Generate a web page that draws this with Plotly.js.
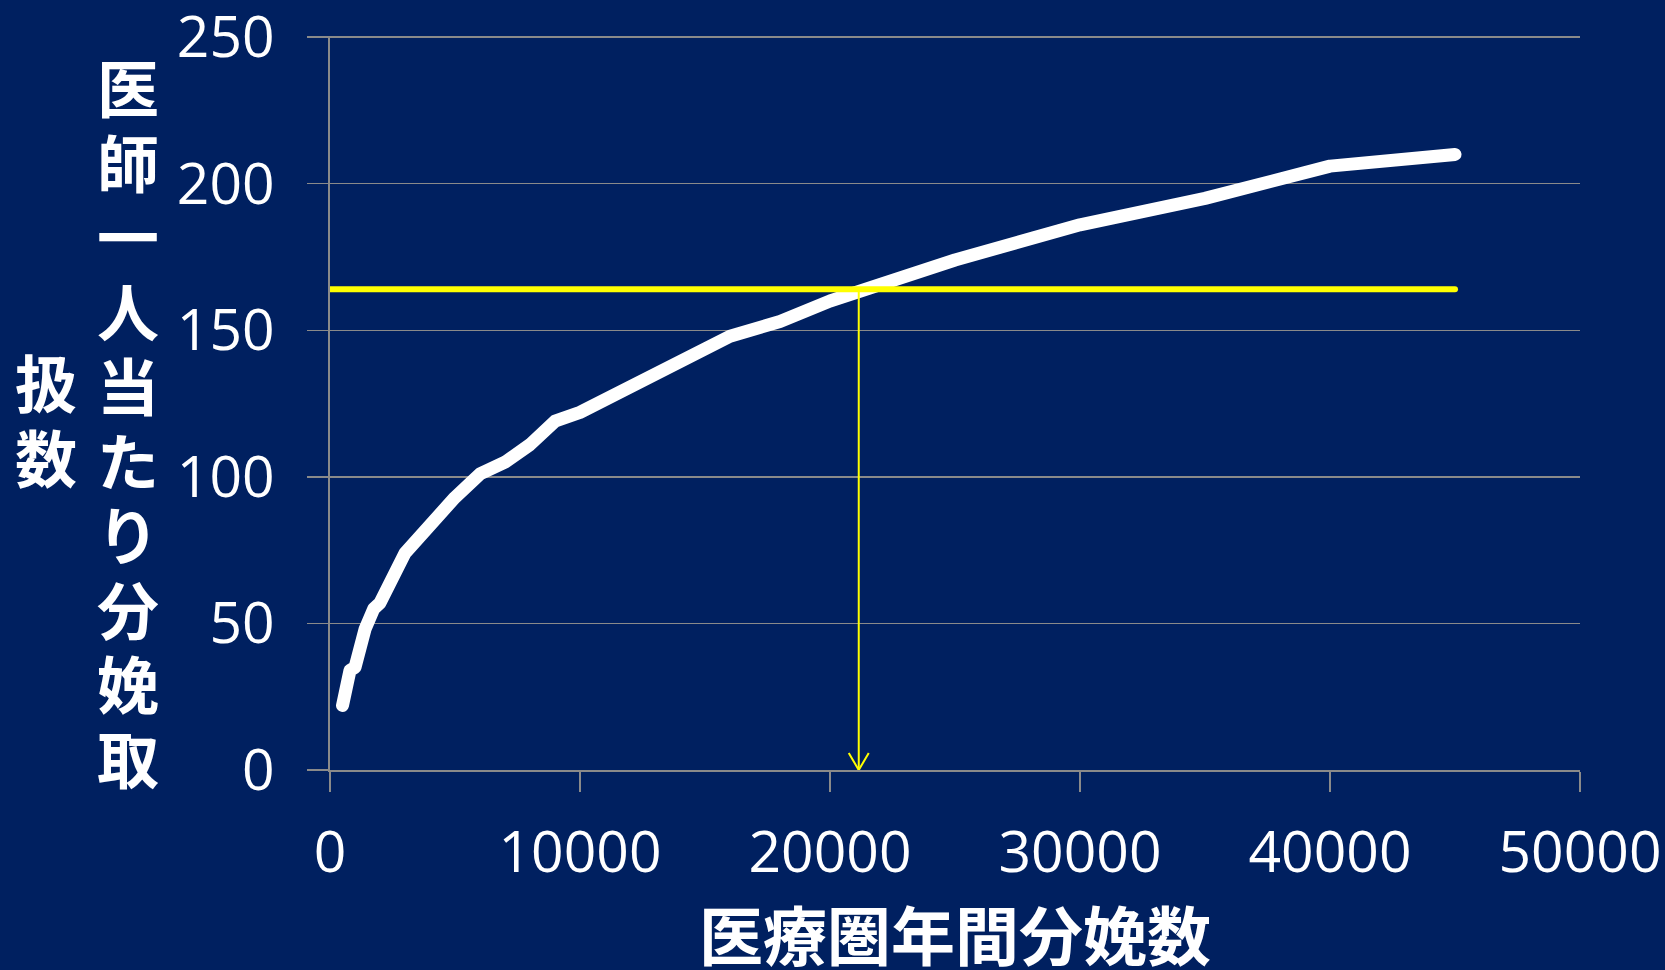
<!DOCTYPE html>
<html lang="ja">
<head>
<meta charset="utf-8">
<title>医療圏年間分娩数と医師一人当たり分娩取扱数</title>
<script src="https://cdn.plot.ly/plotly-3.0.1.min.js"></script>
<style>
  html, body { margin: 0; padding: 0; background: #002060; overflow: hidden; }
  #chart { width: 1665px; height: 970px; }
</style>
</head>
<body>
<div id="chart"></div>
<script>
// Annual births in the medical area vs. births handled per physician
const annualBirths = [500, 800, 1000, 1400, 1750, 2000, 3000, 4000, 5000, 6000, 7000, 8000, 9000,
  10000, 12000, 14000, 16000, 18000, 20000, 25000, 30000, 35000, 40000, 45000];
const birthsPerDoctor = [22, 34, 35, 48, 55, 57, 74, 84, 93, 101, 105, 111, 119,
  122, 131, 140, 148, 153, 160, 174, 186, 195, 206, 210];

// Reference workload level and the area size where the curve reaches it
const thresholdX = [0, 45000];
const thresholdY = [164, 164];
const crossingBirths = 21150;
const crossingLoad = 164;

const xTickValues = [0, 10000, 20000, 30000, 40000, 50000];
const yTickValues = [0, 50, 100, 150, 200, 250];

const xAxisLabel = '医療圏年間分娩数';
const yAxisLabel = '医師一人当たり分娩取扱数';

const BG = '#002060';
const GRID = '#8a8a8a';
const TICK_FONT = { family: 'Open Sans, Noto Sans, sans-serif', size: 57, color: '#ffffff' };
const CJK = 'Noto Sans CJK JP, Noto Sans CJK SC, sans-serif';

const traces = [
  {
    type: 'scatter', mode: 'lines',
    x: annualBirths, y: birthsPerDoctor,
    line: { color: '#ffffff', width: 13 },
    hoverinfo: 'skip'
  },
  {
    type: 'scatter', mode: 'lines',
    x: thresholdX, y: thresholdY,
    line: { color: '#ffff00', width: 6 },
    hoverinfo: 'skip'
  }
];

// Vertical y-title written top-to-bottom in two columns
const firstColumn = Array.from(yAxisLabel.slice(0, 10));
const secondColumn = Array.from(yAxisLabel.slice(10));
const charStep = 74.5;
const annotations = [];
function addColumn(chars, xshift, firstCenter) {
  chars.forEach((ch, i) => {
    annotations.push({
      xref: 'paper', yref: 'paper', x: 0, y: 1,
      xanchor: 'center', yanchor: 'middle',
      xshift: xshift, yshift: -(firstCenter + charStep * i),
      text: ch, showarrow: false,
      font: { family: CJK, size: 62, color: '#ffffff', weight: 700 }
    });
  });
}
addColumn(firstColumn, -202, 50);
const colMid = 50 + charStep * (firstColumn.length - 1) / 2;
addColumn(secondColumn, -284, colMid - 3 - charStep * (secondColumn.length - 1) / 2);

// x-axis title, placed below the tick labels
annotations.push({
  xref: 'paper', yref: 'paper', x: 0.5, y: 0,
  xanchor: 'center', yanchor: 'middle', yshift: -162,
  text: xAxisLabel, showarrow: false,
  font: { family: CJK, size: 64, color: '#ffffff', weight: 700 }
});

const shapes = [
  {
    type: 'line', xref: 'x', yref: 'y',
    x0: crossingBirths, x1: crossingBirths, y0: crossingLoad, y1: 0,
    line: { color: '#ffff00', width: 2 }
  },
  {
    type: 'path', xref: 'x', yref: 'y',
    xsizemode: 'pixel', ysizemode: 'pixel',
    xanchor: crossingBirths, yanchor: 0,
    path: 'M-10,17 L0,0 L10,17',
    line: { color: '#ffff00', width: 2 }
  }
];

const layout = {
  width: 1665, height: 970,
  margin: { l: 330, r: 85, t: 36, b: 200, autoexpand: false },
  paper_bgcolor: BG, plot_bgcolor: BG,
  showlegend: false,
  xaxis: {
    range: [0, 50000], tickvals: xTickValues, ticktext: xTickValues.map(String),
    showgrid: false, zeroline: false,
    showline: true, linecolor: GRID, linewidth: 2,
    ticks: 'outside', ticklen: 20, tickwidth: 1.5, tickcolor: GRID,
    ticklabelstandoff: 12, ticklabeloverflow: 'allow',
    tickfont: TICK_FONT,
    automargin: false, fixedrange: true
  },
  yaxis: {
    range: [0, 250.4], tickvals: yTickValues, ticktext: yTickValues.map(String),
    showgrid: true, gridcolor: GRID, gridwidth: 1.5, zeroline: false,
    showline: true, linecolor: GRID, linewidth: 2,
    ticks: 'outside', ticklen: 21, tickwidth: 1.5, tickcolor: GRID,
    ticklabelstandoff: 21, ticklabeloverflow: 'allow',
    tickfont: TICK_FONT,
    automargin: false, fixedrange: true
  },
  shapes: shapes,
  annotations: annotations
};

Plotly.newPlot('chart', traces, layout, { displayModeBar: false, staticPlot: true }).then(() => {
  document.querySelectorAll('.scatterlayer .js-line').forEach(p => {
    p.style.strokeLinecap = 'round';
    p.style.strokeLinejoin = 'round';
  });
});
</script>
</body>
</html>
